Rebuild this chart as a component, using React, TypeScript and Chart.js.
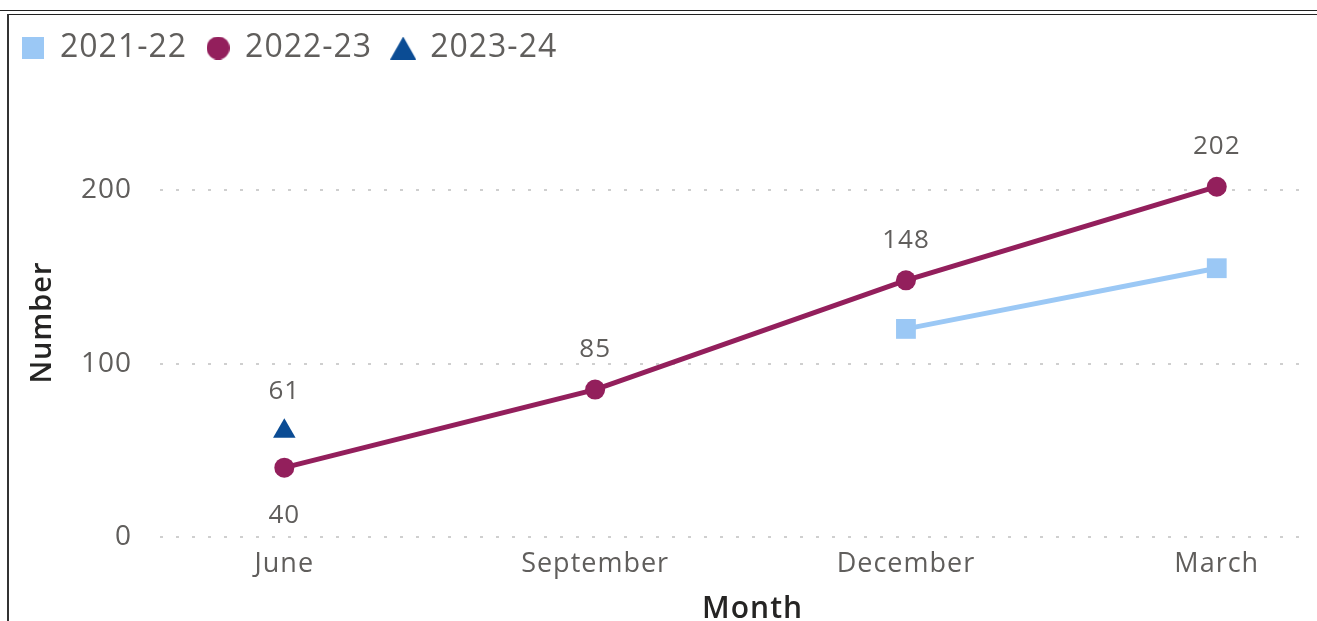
import React, { useEffect, useRef } from "react";
import { Chart, registerables } from "chart.js";

Chart.register(...registerables);

const MONTHS = ["June", "September", "December", "March"];
const SERIES_NAMES = ["2021-22", "2022-23", "2023-24"];
const VALUES_2021_22: (number | null)[] = [null, null, 120, 155];
const VALUES_2022_23: (number | null)[] = [40, 85, 148, 202];
const VALUES_2023_24: (number | null)[] = [61, null, null, null];
const Y_TICKS = [0, 100, 200];
const LABEL_POS_2022_23 = ["below", "above", "above", "above"];
const LABEL_POS_2023_24 = ["above", "above", "above", "above"];

const COLORS = ["#9BC8F5", "#931F5C", "#0B4C94"];
const FONT = "'Open Sans', 'Noto Sans', sans-serif";

const toPoints = (vals: (number | null)[]) =>
  vals.map((v, i) => ({ x: i, y: v })).filter((p) => p.y !== null);

function legendMarker(kind: string, color: string): HTMLCanvasElement {
  const c = document.createElement("canvas");
  const w = kind === "triangle" ? 26 : kind === "circle" ? 23 : 22;
  const h = kind === "triangle" ? 23 : kind === "circle" ? 23 : 22;
  c.width = w;
  c.height = h;
  const g = c.getContext("2d")!;
  g.fillStyle = color;
  if (kind === "rect") {
    g.fillRect(0, 0, w, h);
  } else if (kind === "circle") {
    g.beginPath();
    g.arc(w / 2, h / 2, w / 2, 0, Math.PI * 2);
    g.fill();
  } else {
    g.beginPath();
    g.moveTo(w / 2, 0);
    g.lineTo(w, h);
    g.lineTo(0, h);
    g.closePath();
    g.fill();
  }
  return c;
}

const labelPlugin = {
  id: "pointLabels",
  beforeDraw(chart: any) {
    try {
      chart.ctx.letterSpacing = "1px";
    } catch (e) {}
  },
  afterDatasetsDraw(chart: any) {
    const ctx = chart.ctx;
    ctx.save();
    ctx.font = `26px ${FONT}`;
    ctx.fillStyle = "#605E5C";
    ctx.textAlign = "center";
    ctx.textBaseline = "middle";
    chart.data.datasets.forEach((ds: any, di: number) => {
      const pos = ds.labelPositions;
      if (!pos) return;
      const meta = chart.getDatasetMeta(di);
      meta.data.forEach((el: any, i: number) => {
        const pt = ds.data[i];
        const where = pos[pt.x];
        const dy = where === "below" ? 48 : -40;
        ctx.fillText(String(pt.y), el.x, el.y + dy);
      });
    });
    ctx.restore();
  },
};

export default function App() {
  const ref = useRef<HTMLCanvasElement>(null);

  useEffect(() => {
    if (!ref.current) return;
    const markers = [
      legendMarker("rect", COLORS[0]),
      legendMarker("circle", COLORS[1]),
      legendMarker("triangle", COLORS[2]),
    ];
    const chart = new Chart(ref.current, {
      type: "line",
      data: {
        datasets: [
          {
            label: SERIES_NAMES[0],
            data: toPoints(VALUES_2021_22),
            borderColor: COLORS[0],
            backgroundColor: COLORS[0],
            borderWidth: 5,
            pointStyle: "rect",
            pointRadius: 14,
            pointBorderWidth: 0,
            pointBackgroundColor: COLORS[0],
          } as any,
          {
            label: SERIES_NAMES[1],
            data: toPoints(VALUES_2022_23),
            borderColor: COLORS[1],
            backgroundColor: COLORS[1],
            borderWidth: 5,
            pointStyle: "circle",
            pointRadius: 10,
            pointBorderWidth: 0,
            pointBackgroundColor: COLORS[1],
            labelPositions: LABEL_POS_2022_23,
          } as any,
          {
            label: SERIES_NAMES[2],
            data: toPoints(VALUES_2023_24),
            borderColor: COLORS[2],
            backgroundColor: COLORS[2],
            showLine: false,
            borderWidth: 0,
            pointStyle: "triangle",
            pointRadius: 13,
            pointBorderWidth: 0,
            pointBackgroundColor: COLORS[2],
            labelPositions: LABEL_POS_2023_24,
          } as any,
        ],
      },
      options: {
        responsive: false,
        animation: false,
        events: [],
        layout: { autoPadding: false, padding: { left: 2, top: 12, right: 7, bottom: 0 } },
        plugins: {
          tooltip: { enabled: false },
          legend: {
            display: true,
            position: "top",
            align: "start",
            labels: {
              usePointStyle: true,
              boxWidth: 22,
              boxHeight: 22,
              padding: 20,
              color: "#605E5C",
              font: { family: FONT, size: 32 },
              generateLabels: (c: any) => {
                const items = Chart.defaults.plugins.legend.labels.generateLabels(c);
                return items.map((it: any, i: number) => ({
                  ...it,
                  lineWidth: 0,
                  fillStyle: COLORS[i],
                  strokeStyle: COLORS[i],
                  pointStyle: markers[i],
                }));
              },
            },
          },
        },
        scales: {
          x: {
            type: "linear",
            min: -0.4,
            max: 3.3,
            afterFit: (s: any) => {
              s.height = 84;
              s.paddingLeft = 0;
              s.paddingRight = 0;
            },
            afterBuildTicks: (s: any) => {
              s.ticks = MONTHS.map((_, i) => ({ value: i }));
            },
            grid: { display: false, drawTicks: false },
            border: { display: false },
            ticks: {
              padding: 11,
              color: "#605E5C",
              font: { family: FONT, size: 27 },
              maxRotation: 0,
              callback: (v: any) => MONTHS[v] ?? "",
            },
            title: {
              display: true,
              text: "    Month",
              color: "#252423",
              font: { family: FONT, size: 30, weight: "600", lineHeight: 1.0 },
              padding: { top: 0, bottom: -3 },
            },
          },
          y: {
            type: "linear",
            min: 0,
            max: 267,
            afterFit: (s: any) => {
              s.width = 158;
            },
            afterBuildTicks: (s: any) => {
              s.ticks = Y_TICKS.map((v) => ({ value: v }));
            },
            grid: {
              color: "#CFCFCF",
              lineWidth: 2,
              drawTicks: false,
            } as any,
            border: { display: false, dash: [3, 13] } as any,
            ticks: {
              padding: 28,
              color: "#605E5C",
              font: { family: FONT, size: 28 },
            },
            title: {
              display: true,
              text: "Number    ",
              color: "#252423",
              font: { family: FONT, size: 29, weight: "600" },
              padding: { top: 23, bottom: 0 },
            },
          },
        },
      },
      plugins: [labelPlugin],
    });
    return () => chart.destroy();
  }, []);

  return (
    <div style={{ position: "absolute", left: 0, top: 0, width: 1317, height: 621, background: "#fff", overflow: "hidden" }}>
      <canvas ref={ref} width={1317} height={621} style={{ position: "absolute", left: 0, top: 0, width: 1317, height: 621 }} />
      <div style={{ position: "absolute", left: 0, top: 10, width: 1317, height: 1, background: "#222" }} />
      <div style={{ position: "absolute", left: 7, top: 14, width: 1310, height: 1, background: "#222" }} />
      <div style={{ position: "absolute", left: 7, top: 14, width: 2, height: 607, background: "#333" }} />
    </div>
  );
}
